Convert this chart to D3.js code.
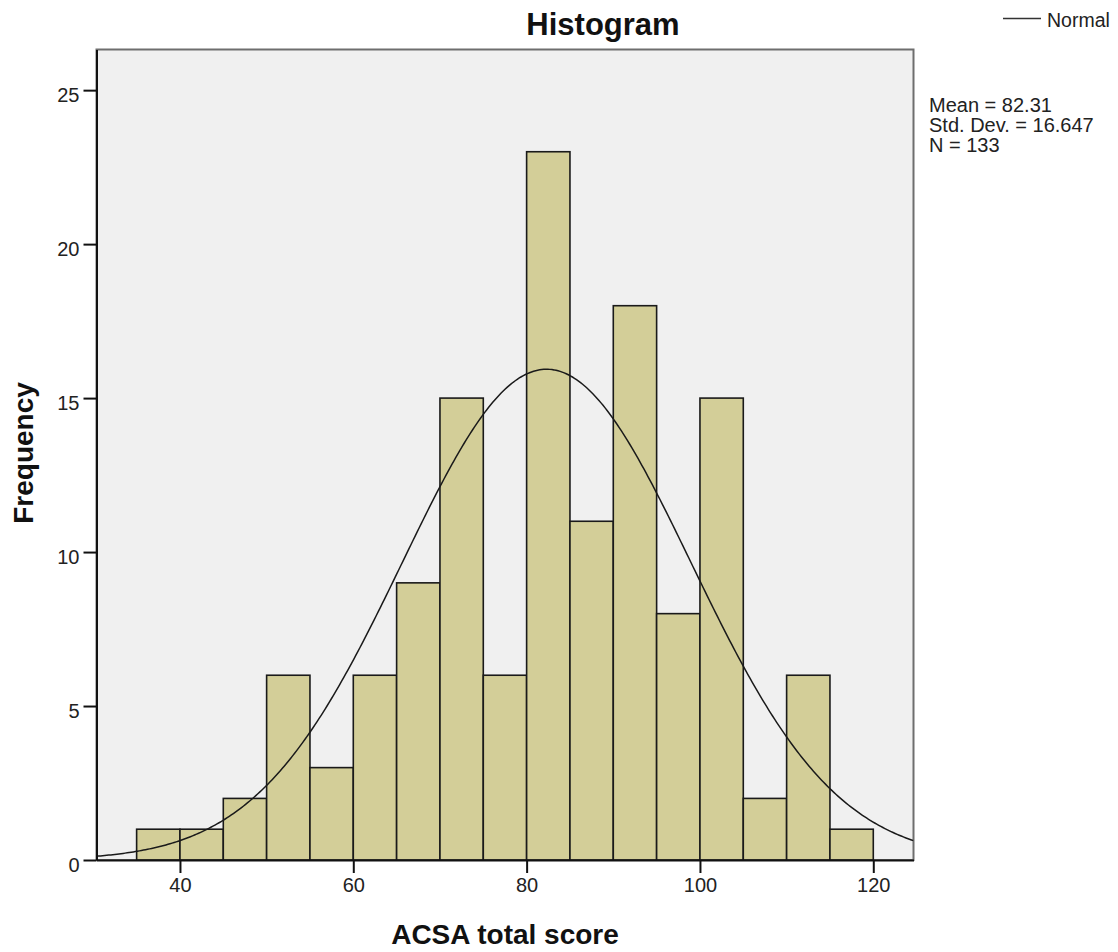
<!DOCTYPE html>
<html>
<head>
<meta charset="utf-8">
<script src="https://cdn.jsdelivr.net/npm/d3@7"></script>
<style>
  html, body { margin: 0; padding: 0; background: #fff; }
  svg { display: block; font-family: Arial, "Liberation Sans", sans-serif; }
</style>
</head>
<body>
<svg id="chart" width="1118" height="952"></svg>
<script>
// ---- Data ----
const binStarts = [35, 40, 45, 50, 55, 60, 65, 70, 75, 80, 85, 90, 95, 100, 105, 110, 115];
const binWidth = 5;
const counts = [1, 1, 2, 6, 3, 6, 9, 15, 6, 23, 11, 18, 8, 15, 2, 6, 1];
const xTicks = [40, 60, 80, 100, 120];
const yTicks = [0, 5, 10, 15, 20, 25];
const stats = { mean: 82.31, sd: 16.647, n: 133 };
const statLines = ["Mean = 82.31", "Std. Dev. = 16.647", "N = 133"];

// ---- Layout ----
const svg = d3.select("#chart");
const pLeft = 96.5, pRight = 913.5, pTop = 49.5, pBottom = 860;

const x = d3.scaleLinear().domain([30.37, 124.64]).range([pLeft, pRight]);
const y = d3.scaleLinear().domain([0, 26.32]).range([pBottom, pTop]);

// plot background
svg.append("rect")
  .attr("x", pLeft).attr("y", pTop)
  .attr("width", pRight - pLeft).attr("height", pBottom - pTop)
  .attr("fill", "#f0f0f0")
  .attr("stroke", "#6e6e6e").attr("stroke-width", 2);

// bars
svg.append("g").selectAll("rect").data(binStarts).join("rect")
  .attr("x", (d) => x(d))
  .attr("y", (d, i) => y(counts[i]))
  .attr("width", (d) => x(d + binWidth) - x(d))
  .attr("height", (d, i) => y(0) - y(counts[i]))
  .attr("fill", "#d3ce98")
  .attr("stroke", "#1a1a1a")
  .attr("stroke-width", 1.6);

// normal curve (from the reported mean / sd / N)
svg.append("clipPath").attr("id", "plotclip")
  .append("rect").attr("x", pLeft).attr("y", pTop)
  .attr("width", pRight - pLeft).attr("height", pBottom - pTop);
const scaleFac = stats.n * binWidth / (stats.sd * Math.sqrt(2 * Math.PI));
const xs = d3.range(0, 401).map(i => 30.37 + (124.64 - 30.37) * i / 400);
const curve = xs.map(v => [v, scaleFac * Math.exp(-0.5 * Math.pow((v - stats.mean) / stats.sd, 2))]);
svg.append("path")
  .datum(curve)
  .attr("clip-path", "url(#plotclip)")
  .attr("fill", "none")
  .attr("stroke", "#1a1a1a")
  .attr("stroke-width", 1.5)
  .attr("d", d3.line().x(d => x(d[0])).y(d => y(d[1])));

// axes
const yAxis = d3.axisLeft(y).tickValues(yTicks).tickSize(13).tickSizeOuter(0).tickPadding(4).tickFormat(d3.format("d"));
const gy = svg.append("g").attr("transform", `translate(${pLeft},0)`).call(yAxis);
gy.select(".domain").attr("stroke", "#111").attr("stroke-width", 2);
gy.selectAll(".tick line").attr("stroke", "#111").attr("stroke-width", 2);
gy.selectAll(".tick text").attr("font-size", 20).attr("fill", "#222")
  .attr("font-family", "Arial, 'Liberation Sans', sans-serif").attr("dy", "0.55em");

const xAxis = d3.axisBottom(x).tickValues(xTicks).tickSize(13).tickSizeOuter(0).tickPadding(5).tickFormat(d3.format("d"));
const gx = svg.append("g").attr("transform", `translate(0,${pBottom})`).call(xAxis);
gx.select(".domain").attr("stroke", "#111").attr("stroke-width", 2);
gx.selectAll(".tick line").attr("stroke", "#111").attr("stroke-width", 2);
gx.selectAll(".tick text").attr("font-size", 20).attr("fill", "#222")
  .attr("font-family", "Arial, 'Liberation Sans', sans-serif");

// titles
svg.append("text").attr("x", 603).attr("y", 35).attr("text-anchor", "middle")
  .attr("font-size", 31).attr("font-weight", "bold").attr("fill", "#111").text("Histogram");
svg.append("text").attr("x", (pLeft + pRight) / 2).attr("y", 944).attr("text-anchor", "middle")
  .attr("font-size", 28).attr("font-weight", "bold").attr("fill", "#111").text("ACSA total score");
svg.append("text").attr("transform", "translate(33,453) rotate(-90)").attr("text-anchor", "middle")
  .attr("font-size", 28).attr("font-weight", "bold").attr("fill", "#111").text("Frequency");

// legend
svg.append("line").attr("x1", 1003).attr("x2", 1041).attr("y1", 18.5).attr("y2", 18.5)
  .attr("stroke", "#333").attr("stroke-width", 1.5);
svg.append("text").attr("x", 1047).attr("y", 26.5).attr("font-size", 19.5).attr("fill", "#222").text("Normal");

// stats
svg.append("g").selectAll("text").data(statLines).join("text")
  .attr("x", 929).attr("y", (d, i) => 111.5 + i * 20)
  .attr("font-size", 20).attr("fill", "#222").text(d => d);
</script>
</body>
</html>
